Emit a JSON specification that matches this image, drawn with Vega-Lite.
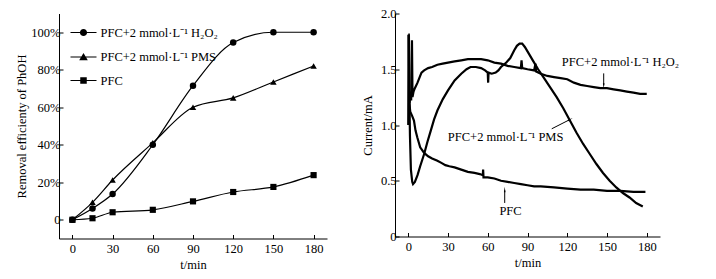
{
  "$schema": "https://vega.github.io/schema/vega-lite/v6.json",
  "padding": {"left": 15, "top": 7.5, "right": 5, "bottom": 5},
  "spacing": 34,
  "config": {
    "font": "Liberation Serif",
    "view": {"stroke": null},
    "axis": {
      "domainColor": "black", "tickColor": "black", "labelColor": "black", "titleColor": "black",
      "labelFont": "Liberation Serif", "titleFont": "Liberation Serif",
      "labelFontSize": 12.5, "titleFontSize": 12.5, "titleFontWeight": "normal",
      "grid": false, "tickSize": -4, "domainWidth": 1, "tickWidth": 1, "labelPadding": 3, "labelOverlap": false, "labelFlush": false
    },
    "text": {"font": "Liberation Serif", "fontSize": 12.5, "color": "black"}
  },
  "datasets": {
    "left": [
      {"series": "PFC+2 mmol·L⁻¹ H₂O₂", "t": 0, "removal": 0},
      {"series": "PFC+2 mmol·L⁻¹ H₂O₂", "t": 15, "removal": 0.06},
      {"series": "PFC+2 mmol·L⁻¹ H₂O₂", "t": 30, "removal": 0.137},
      {"series": "PFC+2 mmol·L⁻¹ H₂O₂", "t": 60, "removal": 0.40},
      {"series": "PFC+2 mmol·L⁻¹ H₂O₂", "t": 90, "removal": 0.715},
      {"series": "PFC+2 mmol·L⁻¹ H₂O₂", "t": 120, "removal": 0.945},
      {"series": "PFC+2 mmol·L⁻¹ H₂O₂", "t": 150, "removal": 1.0},
      {"series": "PFC+2 mmol·L⁻¹ H₂O₂", "t": 180, "removal": 1.0},
      {"series": "PFC+2 mmol·L⁻¹ PMS", "t": 0, "removal": 0},
      {"series": "PFC+2 mmol·L⁻¹ PMS", "t": 15, "removal": 0.093},
      {"series": "PFC+2 mmol·L⁻¹ PMS", "t": 30, "removal": 0.212},
      {"series": "PFC+2 mmol·L⁻¹ PMS", "t": 60, "removal": 0.41},
      {"series": "PFC+2 mmol·L⁻¹ PMS", "t": 90, "removal": 0.60},
      {"series": "PFC+2 mmol·L⁻¹ PMS", "t": 120, "removal": 0.65},
      {"series": "PFC+2 mmol·L⁻¹ PMS", "t": 150, "removal": 0.735},
      {"series": "PFC+2 mmol·L⁻¹ PMS", "t": 180, "removal": 0.82},
      {"series": "PFC", "t": 0, "removal": 0},
      {"series": "PFC", "t": 15, "removal": 0.008},
      {"series": "PFC", "t": 30, "removal": 0.04},
      {"series": "PFC", "t": 60, "removal": 0.053},
      {"series": "PFC", "t": 90, "removal": 0.098},
      {"series": "PFC", "t": 120, "removal": 0.148},
      {"series": "PFC", "t": 150, "removal": 0.175},
      {"series": "PFC", "t": 180, "removal": 0.238}
    ],
    "right": [
      {"s": "H2O2", "t": 1, "I": 1.2}, {"s": "H2O2", "t": 1.5, "I": 1.3}, {"s": "H2O2", "t": 2.2, "I": 1.22},
      {"s": "H2O2", "t": 2.8, "I": 1.76}, {"s": "H2O2", "t": 3.2, "I": 1.25}, {"s": "H2O2", "t": 4, "I": 1.3},
      {"s": "H2O2", "t": 5, "I": 1.33}, {"s": "H2O2", "t": 7, "I": 1.38}, {"s": "H2O2", "t": 9, "I": 1.44},
      {"s": "H2O2", "t": 10, "I": 1.47}, {"s": "H2O2", "t": 12, "I": 1.49}, {"s": "H2O2", "t": 15, "I": 1.51},
      {"s": "H2O2", "t": 18, "I": 1.52}, {"s": "H2O2", "t": 22, "I": 1.54}, {"s": "H2O2", "t": 26, "I": 1.55},
      {"s": "H2O2", "t": 30, "I": 1.56}, {"s": "H2O2", "t": 35, "I": 1.57}, {"s": "H2O2", "t": 40, "I": 1.58},
      {"s": "H2O2", "t": 45, "I": 1.59}, {"s": "H2O2", "t": 50, "I": 1.59}, {"s": "H2O2", "t": 55, "I": 1.59},
      {"s": "H2O2", "t": 60, "I": 1.58}, {"s": "H2O2", "t": 65, "I": 1.56}, {"s": "H2O2", "t": 70, "I": 1.55},
      {"s": "H2O2", "t": 75, "I": 1.53}, {"s": "H2O2", "t": 80, "I": 1.52}, {"s": "H2O2", "t": 85, "I": 1.51},
      {"s": "H2O2", "t": 85.5, "I": 1.58}, {"s": "H2O2", "t": 86, "I": 1.51}, {"s": "H2O2", "t": 90, "I": 1.5},
      {"s": "H2O2", "t": 95, "I": 1.49}, {"s": "H2O2", "t": 96, "I": 1.55}, {"s": "H2O2", "t": 96.5, "I": 1.48},
      {"s": "H2O2", "t": 100, "I": 1.46}, {"s": "H2O2", "t": 105, "I": 1.44}, {"s": "H2O2", "t": 110, "I": 1.43},
      {"s": "H2O2", "t": 115, "I": 1.42}, {"s": "H2O2", "t": 120, "I": 1.41}, {"s": "H2O2", "t": 125, "I": 1.38},
      {"s": "H2O2", "t": 130, "I": 1.36}, {"s": "H2O2", "t": 135, "I": 1.35}, {"s": "H2O2", "t": 140, "I": 1.34},
      {"s": "H2O2", "t": 145, "I": 1.33}, {"s": "H2O2", "t": 150, "I": 1.33}, {"s": "H2O2", "t": 155, "I": 1.32},
      {"s": "H2O2", "t": 160, "I": 1.31}, {"s": "H2O2", "t": 165, "I": 1.3}, {"s": "H2O2", "t": 170, "I": 1.29},
      {"s": "H2O2", "t": 175, "I": 1.28}, {"s": "H2O2", "t": 180, "I": 1.28},
      {"s": "PMS", "t": 0, "I": 1.81}, {"s": "PMS", "t": 0.4, "I": 1.81}, {"s": "PMS", "t": 0.8, "I": 1.3},
      {"s": "PMS", "t": 1.3, "I": 0.9}, {"s": "PMS", "t": 2, "I": 0.6}, {"s": "PMS", "t": 3, "I": 0.49},
      {"s": "PMS", "t": 3.6, "I": 0.47}, {"s": "PMS", "t": 5, "I": 0.49}, {"s": "PMS", "t": 7, "I": 0.55},
      {"s": "PMS", "t": 9, "I": 0.63}, {"s": "PMS", "t": 12, "I": 0.74}, {"s": "PMS", "t": 14.5, "I": 0.85},
      {"s": "PMS", "t": 17, "I": 0.95}, {"s": "PMS", "t": 19.5, "I": 1.05}, {"s": "PMS", "t": 22, "I": 1.13},
      {"s": "PMS", "t": 26, "I": 1.23}, {"s": "PMS", "t": 30, "I": 1.31}, {"s": "PMS", "t": 35, "I": 1.4},
      {"s": "PMS", "t": 40, "I": 1.46}, {"s": "PMS", "t": 44, "I": 1.5}, {"s": "PMS", "t": 47, "I": 1.52},
      {"s": "PMS", "t": 51, "I": 1.52}, {"s": "PMS", "t": 55, "I": 1.51}, {"s": "PMS", "t": 58, "I": 1.49},
      {"s": "PMS", "t": 60, "I": 1.47}, {"s": "PMS", "t": 60.3, "I": 1.38}, {"s": "PMS", "t": 60.6, "I": 1.47},
      {"s": "PMS", "t": 63, "I": 1.46}, {"s": "PMS", "t": 66, "I": 1.47}, {"s": "PMS", "t": 68, "I": 1.49},
      {"s": "PMS", "t": 70, "I": 1.52}, {"s": "PMS", "t": 74, "I": 1.56}, {"s": "PMS", "t": 77, "I": 1.6},
      {"s": "PMS", "t": 80, "I": 1.67}, {"s": "PMS", "t": 82, "I": 1.71}, {"s": "PMS", "t": 84, "I": 1.73},
      {"s": "PMS", "t": 86, "I": 1.73}, {"s": "PMS", "t": 88, "I": 1.7}, {"s": "PMS", "t": 91, "I": 1.64},
      {"s": "PMS", "t": 94, "I": 1.58}, {"s": "PMS", "t": 98, "I": 1.5}, {"s": "PMS", "t": 102, "I": 1.43},
      {"s": "PMS", "t": 107, "I": 1.34}, {"s": "PMS", "t": 112, "I": 1.25}, {"s": "PMS", "t": 117, "I": 1.15},
      {"s": "PMS", "t": 122, "I": 1.04}, {"s": "PMS", "t": 127, "I": 0.93}, {"s": "PMS", "t": 132, "I": 0.83},
      {"s": "PMS", "t": 137, "I": 0.74}, {"s": "PMS", "t": 142, "I": 0.65}, {"s": "PMS", "t": 147, "I": 0.57},
      {"s": "PMS", "t": 152, "I": 0.5}, {"s": "PMS", "t": 157, "I": 0.44}, {"s": "PMS", "t": 162, "I": 0.39},
      {"s": "PMS", "t": 167, "I": 0.35}, {"s": "PMS", "t": 172, "I": 0.3}, {"s": "PMS", "t": 177, "I": 0.27},
      {"s": "PFC", "t": 0, "I": 1.0}, {"s": "PFC", "t": 0.2, "I": 1.8}, {"s": "PFC", "t": 0.5, "I": 1.8},
      {"s": "PFC", "t": 0.8, "I": 1.2}, {"s": "PFC", "t": 1.5, "I": 1.12}, {"s": "PFC", "t": 3, "I": 1.08},
      {"s": "PFC", "t": 4.3, "I": 1.04}, {"s": "PFC", "t": 5.5, "I": 0.95}, {"s": "PFC", "t": 6.8, "I": 0.89},
      {"s": "PFC", "t": 9, "I": 0.8}, {"s": "PFC", "t": 12, "I": 0.75}, {"s": "PFC", "t": 15, "I": 0.72},
      {"s": "PFC", "t": 18, "I": 0.7}, {"s": "PFC", "t": 22, "I": 0.68}, {"s": "PFC", "t": 25, "I": 0.66},
      {"s": "PFC", "t": 28, "I": 0.64}, {"s": "PFC", "t": 31, "I": 0.63}, {"s": "PFC", "t": 35, "I": 0.62},
      {"s": "PFC", "t": 40, "I": 0.6}, {"s": "PFC", "t": 45, "I": 0.58}, {"s": "PFC", "t": 50, "I": 0.57},
      {"s": "PFC", "t": 54, "I": 0.56}, {"s": "PFC", "t": 56.3, "I": 0.55}, {"s": "PFC", "t": 56.5, "I": 0.6},
      {"s": "PFC", "t": 56.8, "I": 0.53}, {"s": "PFC", "t": 60, "I": 0.53}, {"s": "PFC", "t": 65, "I": 0.52},
      {"s": "PFC", "t": 70, "I": 0.5}, {"s": "PFC", "t": 75, "I": 0.49}, {"s": "PFC", "t": 80, "I": 0.48},
      {"s": "PFC", "t": 85, "I": 0.47}, {"s": "PFC", "t": 90, "I": 0.46}, {"s": "PFC", "t": 95, "I": 0.45},
      {"s": "PFC", "t": 100, "I": 0.45}, {"s": "PFC", "t": 110, "I": 0.44}, {"s": "PFC", "t": 120, "I": 0.43},
      {"s": "PFC", "t": 130, "I": 0.42}, {"s": "PFC", "t": 140, "I": 0.42}, {"s": "PFC", "t": 150, "I": 0.41},
      {"s": "PFC", "t": 160, "I": 0.41}, {"s": "PFC", "t": 170, "I": 0.4}, {"s": "PFC", "t": 179, "I": 0.4}
    ],
    "notes": [
      {"label": "PFC+2 mmol·L⁻¹ H₂O₂", "t": 160.2, "I": 1.568},
      {"label": "PFC+2 mmol·L⁻¹ PMS", "t": 73.5, "I": 0.89},
      {"label": "PFC", "t": 77.2, "I": 0.226}
    ],
    "arrows": [
      {"name": "H2O2", "t": 147.5, "I": 1.463, "t2": 147.5, "I2": 1.357},
      {"name": "PMS", "t": 108.3, "I": 0.966, "t2": 121.7, "I2": 1.047},
      {"name": "PFC", "t": 72.8, "I": 0.301, "t2": 72.8, "I2": 0.413}
    ]
  },
  "hconcat": [
    {
      "width": 268,
      "height": 225,
      "layer": [
        {
          "data": {"name": "left"},
          "mark": {"type": "line", "interpolate": "monotone", "color": "black", "strokeWidth": 1.2},
          "encoding": {
            "x": {"field": "t", "type": "quantitative",
              "scale": {"domain": [-10, 190], "nice": false, "zero": false},
              "axis": {"title": "t/min", "values": [0, 15, 30, 45, 60, 75, 90, 105, 120, 135, 150, 165, 180, 190],
                "labelExpr": "datum.value % 30 == 0 && datum.value <= 180 ? datum.label : ''", "labelPadding": 8, "titlePadding": 3}},
            "y": {"field": "removal", "type": "quantitative",
              "scale": {"domain": [-0.1, 1.1], "nice": false, "zero": false},
              "axis": {"title": "Removal efficienty of PhOH", "format": ".0%",
                "values": [0, 0.1, 0.2, 0.3, 0.4, 0.5, 0.6, 0.7, 0.8, 0.9, 1.0, 1.1],
                "labelExpr": "datum.value == 0 ? '0' : (datum.value == 0.2 || datum.value == 0.4 || datum.value == 0.6 || datum.value == 0.8 || datum.value == 1 ? datum.label : '')",
                "titlePadding": 2}},
            "detail": {"field": "series", "type": "nominal"}
          }
        },
        {
          "data": {"name": "left"},
          "transform": [{"filter": "datum.series == 'PFC+2 mmol·L⁻¹ H₂O₂'"}],
          "mark": {"type": "point", "shape": "circle", "filled": true, "color": "black", "opacity": 1, "size": 42},
          "encoding": {"x": {"field": "t", "type": "quantitative"}, "y": {"field": "removal", "type": "quantitative"}}
        },
        {
          "data": {"name": "left"},
          "transform": [{"filter": "datum.series == 'PFC+2 mmol·L⁻¹ PMS'"}],
          "mark": {"type": "point", "shape": "triangle-up", "filled": true, "color": "black", "opacity": 1, "size": 42},
          "encoding": {"x": {"field": "t", "type": "quantitative"}, "y": {"field": "removal", "type": "quantitative"}}
        },
        {
          "data": {"name": "left"},
          "transform": [{"filter": "datum.series == 'PFC'"}],
          "mark": {"type": "point", "shape": "square", "filled": true, "color": "black", "opacity": 1, "size": 38},
          "encoding": {"x": {"field": "t", "type": "quantitative"}, "y": {"field": "removal", "type": "quantitative"}}
        },
        {
          "data": {"name": "left"},
          "transform": [{"filter": "datum.t < -100"}],
          "mark": {"type": "point", "filled": true, "color": "black", "opacity": 1, "size": 169},
          "encoding": {
            "x": {"field": "t", "type": "quantitative"},
            "y": {"field": "removal", "type": "quantitative"},
            "shape": {"field": "series", "type": "nominal",
              "scale": {"domain": ["PFC+2 mmol·L⁻¹ H₂O₂", "PFC+2 mmol·L⁻¹ PMS", "PFC"],
                "range": [
                  "M-2,-0.09L2,-0.09L2,0.09L-2,0.09ZM0.55,0A0.55,0.55,0,1,1,-0.55,0A0.55,0.55,0,1,1,0.55,0Z",
                  "M-2,-0.09L2,-0.09L2,0.09L-2,0.09ZM0,-0.62L0.66,0.5L-0.66,0.5Z",
                  "M-2,-0.09L2,-0.09L2,0.09L-2,0.09ZM-0.5,-0.5L0.5,-0.5L0.5,0.5L-0.5,0.5Z"
                ]},
              "legend": {"title": null, "orient": "none", "legendX": 17, "legendY": 11.5, "padding": 0,
                "symbolSize": 169, "labelOffset": 9.5, "rowPadding": 9.5,
                "labelFont": "Liberation Serif", "labelFontSize": 12.5, "labelColor": "black", "labelLimit": 300,
                "symbolFillColor": "black", "symbolOpacity": 1}}
          }
        },
        {
          "mark": {"type": "text", "text": "a.", "align": "center", "baseline": "middle"},
          "encoding": {"x": {"datum": 6}, "y": {"datum": 1.096}}
        }
      ]
    },
    {
      "width": 265,
      "height": 223,
      "layer": [
        {
          "data": {"name": "right"},
          "mark": {"type": "line", "color": "black", "strokeWidth": 2.2},
          "encoding": {
            "x": {"field": "t", "type": "quantitative",
              "scale": {"domain": [-10, 190], "nice": false, "zero": false},
              "axis": {"title": "t/min", "values": [0, 15, 30, 45, 60, 75, 90, 105, 120, 135, 150, 165, 180, 190],
                "labelExpr": "datum.value % 30 == 0 && datum.value <= 180 ? datum.label : ''", "labelPadding": 8, "titlePadding": 3}},
            "y": {"field": "I", "type": "quantitative",
              "scale": {"domain": [0, 2], "nice": false, "zero": false},
              "axis": {"title": "Current/mA", "values": [0, 0.25, 0.5, 0.75, 1, 1.25, 1.5, 1.75, 2],
                "labelExpr": "datum.value == 0 ? '0' : ((datum.value * 2) % 1 == 0 ? format(datum.value, '.1f') : '')", "titlePadding": 6}},
            "detail": {"field": "s", "type": "nominal"}
          }
        },
        {
          "data": {"name": "notes"},
          "mark": {"type": "text", "align": "center", "baseline": "middle"},
          "encoding": {
            "x": {"field": "t", "type": "quantitative"},
            "y": {"field": "I", "type": "quantitative"},
            "text": {"field": "label"}
          }
        },
        {
          "data": {"name": "arrows"},
          "mark": {"type": "rule", "color": "black", "strokeWidth": 1},
          "encoding": {
            "x": {"field": "t", "type": "quantitative"},
            "y": {"field": "I", "type": "quantitative"},
            "x2": {"field": "t2"},
            "y2": {"field": "I2"}
          }
        },
        {
          "data": {"name": "arrows"},
          "transform": [{"filter": "datum.name == 'H2O2'"}],
          "mark": {"type": "point", "shape": "wedge", "filled": true, "color": "black", "opacity": 1, "size": 40, "angle": 180},
          "encoding": {"x": {"field": "t2", "type": "quantitative"}, "y": {"field": "I2", "type": "quantitative"}}
        },
        {
          "data": {"name": "arrows"},
          "transform": [{"filter": "datum.name == 'PMS'"}],
          "mark": {"type": "point", "shape": "wedge", "filled": true, "color": "black", "opacity": 1, "size": 40, "angle": 63},
          "encoding": {"x": {"field": "t2", "type": "quantitative"}, "y": {"field": "I2", "type": "quantitative"}}
        },
        {
          "data": {"name": "arrows"},
          "transform": [{"filter": "datum.name == 'PFC'"}],
          "mark": {"type": "point", "shape": "wedge", "filled": true, "color": "black", "opacity": 1, "size": 40, "angle": 0},
          "encoding": {"x": {"field": "t2", "type": "quantitative"}, "y": {"field": "I2", "type": "quantitative"}}
        },
        {
          "mark": {"type": "text", "text": "b.", "align": "center", "baseline": "middle"},
          "encoding": {"x": {"datum": 6.8}, "y": {"datum": 1.99}}
        }
      ]
    }
  ]
}
